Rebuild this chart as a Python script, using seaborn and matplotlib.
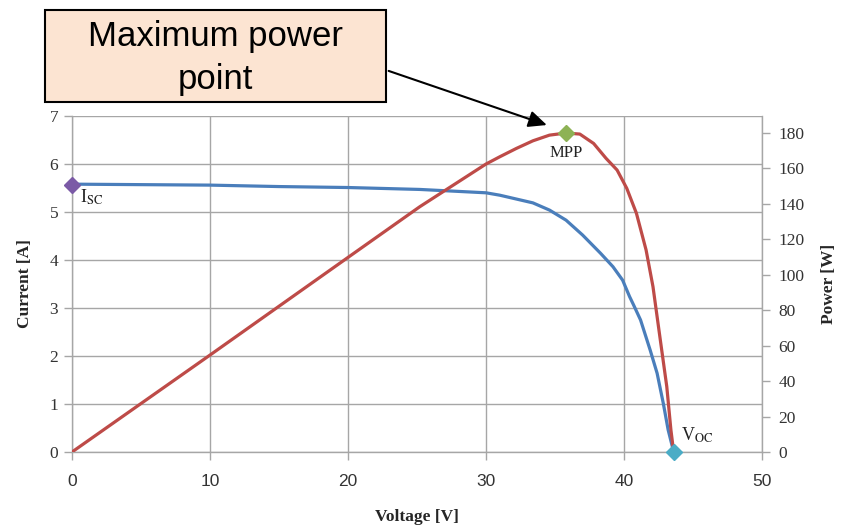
import matplotlib
matplotlib.use("Agg")
import matplotlib.pyplot as plt
import seaborn as sns
import pandas as pd
from matplotlib.patches import Rectangle

# ---- data ----
v_current = [0, 5, 10, 15, 20, 25.2, 30, 31.0, 33.4, 34.6, 35.8, 37.0, 38.3, 39.2, 39.9,
             40.4, 40.7, 41.2, 41.9, 42.4, 42.85, 43.2, 43.6]
current = [5.58, 5.57, 5.56, 5.53, 5.51, 5.47, 5.40, 5.35, 5.19, 5.04, 4.83, 4.52, 4.14, 3.86, 3.58,
           3.24, 3.06, 2.75, 2.12, 1.64, 1.01, 0.46, 0.0]

v_power = [0, 10, 20, 25.2, 30, 31.0, 32.2, 33.4, 34.6, 35.8, 36.8, 37.8, 38.7, 39.5, 40.2,
           40.9, 41.6, 42.1, 42.6, 43.1, 43.4, 43.6]
power = [0, 54.7, 109.8, 138.4, 162.5, 166.6, 171.3, 175.6, 178.8, 180, 179.4, 174.1, 165.7, 159.1, 148.8,
         134.7, 114, 93.3, 65, 36.9, 12.4, 0]

isc_point = (0, 5.57)
mpp_point = (35.8, 180)
voc_point = (43.6, 0)

x_ticks = [0, 10, 20, 30, 40, 50]
y_ticks = [0, 1, 2, 3, 4, 5, 6, 7]
p_ticks = [0, 20, 40, 60, 80, 100, 120, 140, 160, 180]

df_i = pd.DataFrame({"Voltage": v_current, "Current": current})
df_p = pd.DataFrame({"Voltage": v_power, "Power": power})

sns.set_style("white")
plt.rcParams["mathtext.fontset"] = "stix"

W, H = 844, 526
fig = plt.figure(figsize=(W / 100, H / 100), dpi=100)
ax = fig.add_axes([72 / W, 1 - 452 / H, (762 - 72) / W, (452 - 116) / H])
ax2 = ax.twinx()

blue = "#4A7EBB"
red = "#BE4B48"
grid_c = "#A6A6A6"

sns.lineplot(data=df_i, x="Voltage", y="Current", ax=ax, color=blue, lw=2.3, sort=False, zorder=3)
sns.lineplot(data=df_p, x="Voltage", y="Power", ax=ax2, color=red, lw=2.3, sort=False, zorder=3)
for a in (ax, ax2):
    for ln in a.get_lines():
        ln.set_solid_joinstyle("round")
        ln.set_solid_capstyle("round")

ax.set_xlim(0, 50)
ax.set_ylim(0, 7)
ax2.set_ylim(0, 189.6)
ax.set_xticks(x_ticks)
ax.set_yticks(y_ticks)
ax2.set_yticks(p_ticks)

ax.grid(True, color=grid_c, lw=1.0)
ax2.grid(False)
for a in (ax, ax2):
    a.spines["top"].set_visible(False)
    for s in ["left", "bottom", "right"]:
        a.spines[s].set_color(grid_c)
        a.spines[s].set_linewidth(1.0)
ax.spines["right"].set_visible(False)
ax2.spines["left"].set_visible(False)
ax2.spines["bottom"].set_visible(False)

ax.tick_params(axis="both", which="both", direction="out", length=6, color=grid_c, width=1.0)
ax.tick_params(axis="y", left=True, pad=4)
ax.tick_params(axis="x", bottom=True, pad=10)
ax2.tick_params(axis="y", right=True, direction="out", length=6, color=grid_c, width=1.0, pad=6)

serif = ["Liberation Serif", "DejaVu Serif"]
sans = ["Liberation Sans", "DejaVu Sans"]
for lab in ax.get_yticklabels():
    lab.set_fontfamily(serif); lab.set_fontsize(12.5); lab.set_color("#333333")
for lab in ax2.get_yticklabels():
    lab.set_fontfamily(serif); lab.set_fontsize(12.5); lab.set_color("#333333")
for lab in ax.get_xticklabels():
    lab.set_fontfamily(sans); lab.set_fontsize(12.5); lab.set_color("#333333")

ax.set_xlabel("Voltage [V]", fontfamily=serif, fontweight="bold", fontsize=12.5, labelpad=14)
ax.set_ylabel("Current [A]", fontfamily=serif, fontweight="bold", fontsize=12.5, labelpad=12)
ax2.set_ylabel("Power [W]", fontfamily=serif, fontweight="bold", fontsize=12.5, labelpad=12, rotation=90)

# markers
ax.plot([isc_point[0]], [isc_point[1]], marker="D", ms=8, color="#7B5AA6", clip_on=False, zorder=5)
ax2.plot([mpp_point[0]], [mpp_point[1]], marker="D", ms=8, color="#8DB255", clip_on=False, zorder=5)
ax2.plot([voc_point[0]], [voc_point[1]], marker="D", ms=8, color="#4AACC6", clip_on=False, zorder=5)

ax.text(0.6, 5.3, r"I$_{\rm SC}$", fontfamily=serif, fontsize=13, color="#222222", va="center", ha="left")
ax2.text(35.8, 168.5, "MPP", fontfamily=serif, fontsize=12, color="#222222", va="center", ha="center")
ax2.text(44.1, 9.5, r"V$_{\rm OC}$", fontfamily=serif, fontsize=13, color="#222222", va="center", ha="left")

# callout box
bx0, by0, bx1, by1 = 45, 10, 386, 102
fig.patches.append(Rectangle((bx0 / W, 1 - by1 / H), (bx1 - bx0) / W, (by1 - by0) / H,
                             transform=fig.transFigure, facecolor="#FCE4D2", edgecolor="black", lw=1.5))
fig.text((bx0 + bx1) / 2 / W, 1 - 58 / H, "Maximum power\npoint", ha="center", va="center",
         fontfamily=sans, fontsize=25, linespacing=1.35, color="black")

ax2.annotate("", xy=(34.6, 184), xycoords="data",
             xytext=(386, H - 70), textcoords="figure pixels",
             arrowprops=dict(arrowstyle="-|>,head_length=1.1,head_width=0.5", color="black", lw=1.5),
             annotation_clip=False)

fig.savefig("out.png", dpi=100)
